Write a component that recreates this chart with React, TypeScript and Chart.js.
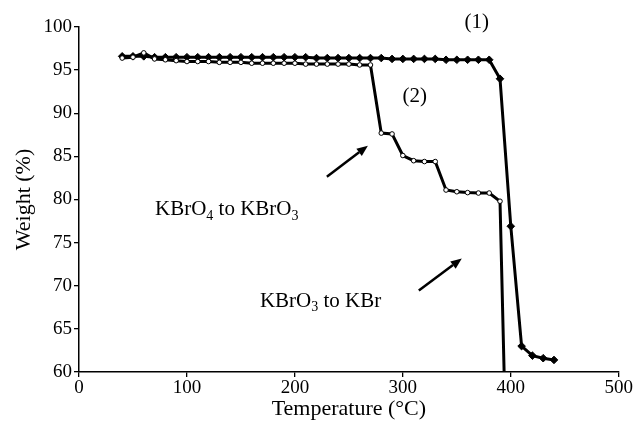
import React, { useEffect, useRef } from "react";
import { Chart, registerables } from "chart.js";

Chart.register(...registerables);

// Series (1): filled markers
const s1Temp = [40, 50, 60, 70, 80, 90, 100, 110, 120, 130, 140, 150, 160, 170, 180, 190, 200, 210, 220, 230, 240, 250, 260, 270, 280, 290, 300, 310, 320, 330, 340, 350, 360, 370, 380, 390, 400, 410, 420, 430, 440];
const s1Weight = [96.6, 96.6, 96.6, 96.5, 96.5, 96.5, 96.5, 96.5, 96.5, 96.5, 96.5, 96.5, 96.5, 96.5, 96.5, 96.5, 96.5, 96.5, 96.4, 96.4, 96.4, 96.4, 96.4, 96.4, 96.4, 96.3, 96.3, 96.3, 96.3, 96.3, 96.2, 96.2, 96.2, 96.2, 96.2, 94.0, 76.9, 63.0, 61.9, 61.6, 61.4];

// Series (2): open markers
const s2Temp = [40, 50, 60, 70, 80, 90, 100, 110, 120, 130, 140, 150, 160, 170, 180, 190, 200, 210, 220, 230, 240, 250, 260, 270, 280, 290, 300, 310, 320, 330, 340, 350, 360, 370, 380, 390, 394];
const s2Weight = [96.4, 96.5, 97.0, 96.3, 96.2, 96.1, 96.0, 96.0, 96.0, 95.9, 95.9, 95.9, 95.8, 95.8, 95.8, 95.8, 95.8, 95.7, 95.7, 95.7, 95.7, 95.7, 95.6, 95.6, 87.7, 87.6, 85.1, 84.5, 84.4, 84.4, 81.1, 80.9, 80.8, 80.75, 80.75, 79.8, 59];

const xTicks = [0, 100, 200, 300, 400, 500];
const yTicks = [60, 65, 70, 75, 80, 85, 90, 95, 100];

const SERIF = "'Liberation Serif', 'Times New Roman', serif";

type Seg = { t: string; sub?: boolean };
const labels: { x: number; y: number; segs: Seg[]; align: "left" | "center" }[] = [
  { x: 368.5, y: 100.5, segs: [{ t: "(1)" }], align: "center" },
  { x: 311, y: 92.0, segs: [{ t: "(2)" }], align: "center" },
  { x: 70.4, y: 78.8, segs: [{ t: "KBrO" }, { t: "4", sub: true }, { t: " to KBrO" }, { t: "3", sub: true }], align: "left" },
  { x: 167.6, y: 68.2, segs: [{ t: "KBrO" }, { t: "3", sub: true }, { t: " to KBr" }], align: "left" },
];

const arrows = [
  { x1: 229.6, y1: 82.64, x2: 267.6, y2: 86.24 },
  { x1: 314.8, y1: 69.45, x2: 354.6, y2: 73.16 },
];

const annotationPlugin = {
  id: "annot",
  afterDraw(chart: any) {
    const { ctx } = chart;
    const xs = chart.scales.x;
    const ys = chart.scales.y;
    ctx.save();
    ctx.fillStyle = "#000";
    ctx.strokeStyle = "#000";
    ctx.textBaseline = "middle";
    for (const l of labels) {
      const px = xs.getPixelForValue(l.x);
      const py = ys.getPixelForValue(l.y);
      let total = 0;
      for (const s of l.segs) {
        ctx.font = `${s.sub ? 14 : 21}px ${SERIF}`;
        total += ctx.measureText(s.t).width;
      }
      let cx = l.align === "center" ? px - total / 2 : px;
      for (const s of l.segs) {
        ctx.font = `${s.sub ? 14 : 21}px ${SERIF}`;
        ctx.textAlign = "left";
        ctx.fillText(s.t, cx, s.sub ? py + 6 : py);
        cx += ctx.measureText(s.t).width;
      }
    }
    for (const a of arrows) {
      const x1 = xs.getPixelForValue(a.x1);
      const y1 = ys.getPixelForValue(a.y1);
      const x2 = xs.getPixelForValue(a.x2);
      const y2 = ys.getPixelForValue(a.y2);
      const ang = Math.atan2(y2 - y1, x2 - x1);
      const hl = 11;
      const hw = 4.5;
      const bx = x2 - hl * Math.cos(ang);
      const by = y2 - hl * Math.sin(ang);
      ctx.lineWidth = 2.5;
      ctx.beginPath();
      ctx.moveTo(x1, y1);
      ctx.lineTo(bx, by);
      ctx.stroke();
      ctx.beginPath();
      ctx.moveTo(x2, y2);
      ctx.lineTo(bx - hw * Math.sin(ang), by + hw * Math.cos(ang));
      ctx.lineTo(bx + hw * Math.sin(ang), by - hw * Math.cos(ang));
      ctx.closePath();
      ctx.fill();
    }
    ctx.restore();
  },
};

export default function App() {
  const ref = useRef<HTMLCanvasElement | null>(null);
  useEffect(() => {
    if (!ref.current) return;
    const chart = new Chart(ref.current, {
      type: "line",
      data: {
        datasets: [
          {
            label: "(2)",
            data: s2Temp.map((t, i) => ({ x: t, y: s2Weight[i] })),
            borderColor: "#000",
            borderWidth: 3,
            pointStyle: "circle",
            pointRadius: 2.3,
            pointBackgroundColor: "#fff",
            pointBorderColor: "#000",
            pointBorderWidth: 1,
            tension: 0,
          },
          {
            label: "(1)",
            data: s1Temp.map((t, i) => ({ x: t, y: s1Weight[i] })),
            borderColor: "#000",
            borderWidth: 3,
            pointStyle: "rectRot",
            pointRadius: 3.8,
            pointBackgroundColor: "#000",
            pointBorderColor: "#000",
            pointBorderWidth: 1,
            tension: 0,
          },
        ],
      },
      options: {
        animation: false,
        responsive: false,
        devicePixelRatio: 1,
        layout: { padding: { left: 0, right: 14, top: 27, bottom: 0 } },
        plugins: { legend: { display: false }, tooltip: { enabled: false } },
        scales: {
          x: {
            type: "linear",
            min: 0,
            max: 500,
            afterBuildTicks: (s: any) => {
              s.ticks = xTicks.map((v) => ({ value: v }));
            },
            afterFit: (s: any) => {
              s.height = 61;
            },
            grid: { drawOnChartArea: false, drawTicks: true, tickLength: 5, color: "#000", lineWidth: 1.3 },
            border: { display: true, color: "#000", width: 1.5 },
            ticks: { color: "#000", font: { family: SERIF, size: 19 }, padding: 0, maxRotation: 0 },
            title: {
              display: true,
              text: "Temperature (°C)",
              color: "#000",
              font: { family: SERIF, size: 22 },
              padding: { top: 0, bottom: 11 },
            },
          },
          y: {
            min: 60,
            max: 100,
            afterBuildTicks: (s: any) => {
              s.ticks = yTicks.map((v) => ({ value: v }));
            },
            afterFit: (s: any) => {
              s.width = 79;
            },
            grid: { drawOnChartArea: false, drawTicks: true, tickLength: 5, color: "#000", lineWidth: 1.3 },
            border: { display: true, color: "#000", width: 1.5 },
            ticks: { color: "#000", font: { family: SERIF, size: 19 }, padding: 2 },
            title: {
              display: true,
              text: "Weight (%)",
              color: "#000",
              font: { family: SERIF, size: 22 },
              padding: { top: 11, bottom: 0 },
            },
          },
        },
      },
      plugins: [annotationPlugin],
    });
    return () => chart.destroy();
  }, []);
  return (
    <div style={{ position: "fixed", left: 0, top: 0, width: 633, height: 433, background: "#fff" }}>
      <canvas ref={ref} width={633} height={433} />
    </div>
  );
}
